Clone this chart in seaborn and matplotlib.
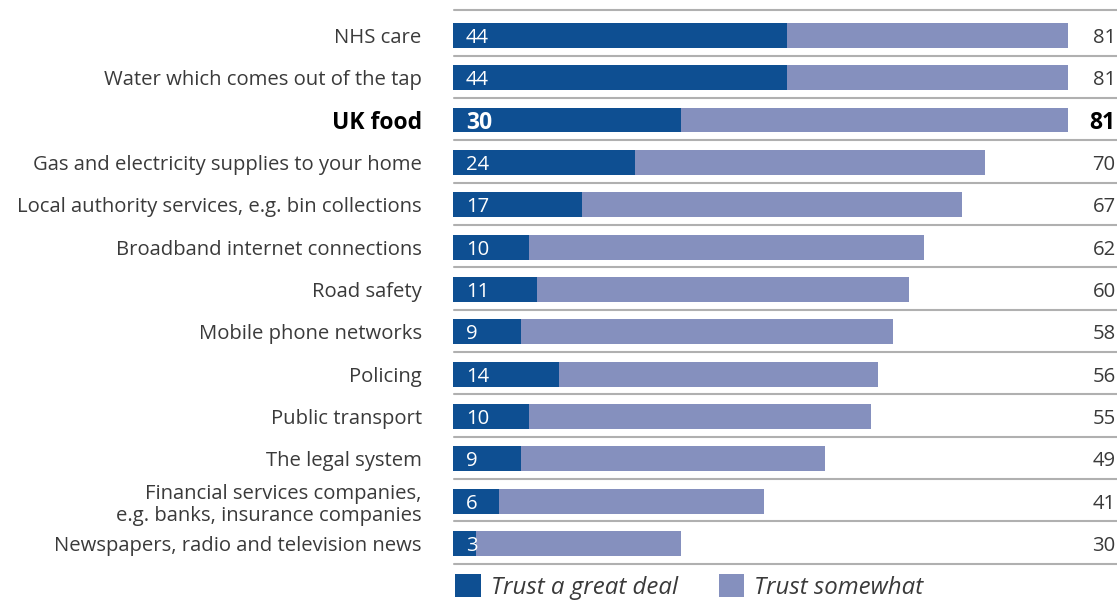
import matplotlib
matplotlib.use("Agg")
import matplotlib.pyplot as plt
from matplotlib.patches import Patch
import seaborn as sns
import pandas as pd

categories = [
    "NHS care",
    "Water which comes out of the tap",
    "UK food",
    "Gas and electricity supplies to your home",
    "Local authority services, e.g. bin collections",
    "Broadband internet connections",
    "Road safety",
    "Mobile phone networks",
    "Policing",
    "Public transport",
    "The legal system",
    "Financial services companies,\ne.g. banks, insurance companies",
    "Newspapers, radio and television news",
]
great_deal = [44, 44, 30, 24, 17, 10, 11, 9, 14, 10, 9, 6, 3]
total_trust = [81, 81, 81, 70, 67, 62, 60, 58, 56, 55, 49, 41, 30]
legend_labels = ["Trust a great deal", "Trust somewhat"]
highlight = "UK food"

DARK = "#0E4F92"
LIGHT = "#8590BE"
TEXT = "#3A3A3A"
RULE = "#B0B0B0"

sns.set_theme(style="white")
plt.rcParams["font.family"] = ["Open Sans", "DejaVu Sans"]

df = pd.DataFrame({"category": categories, "deal": great_deal, "total": total_trust})

W, H = 1117, 602
fig = plt.figure(figsize=(W / 100, H / 100), dpi=100)
ax = fig.add_axes([453 / W, 0, 1 - 453 / W, 1])

sns.barplot(data=df, x="total", y="category", color=LIGHT, width=0.59,
            saturation=1, linewidth=0, ax=ax, orient="h")
sns.barplot(data=df, x="deal", y="category", color=DARK, width=0.59,
            saturation=1, linewidth=0, ax=ax, orient="h")

ax.set_xlim(0, (W - 453) / 7.593)
row = 42.35
ax.set_ylim((H - 35.3) / row, -35.3 / row)

# separator rules between rows
n = len(categories)
ax.axhline(-0.6, xmin=0.002, xmax=1, color=RULE, lw=1.5, zorder=0)
for i in range(n):
    ax.axhline(i + 0.48, xmin=0.002, xmax=1, color=RULE, lw=1.5, zorder=0)

FS = 14.6
FSB = 16.5
for i, (cat, d, t) in enumerate(zip(categories, great_deal, total_trust)):
    bold = cat == highlight
    ax.text(1.7, i, str(d), color="white", ha="left", va="center_baseline",
            fontsize=FSB if bold else FS, fontweight="bold" if bold else "normal")
    ax.text(0.998, i, str(t), color="black" if bold else TEXT, ha="right",
            va="center_baseline", transform=ax.get_yaxis_transform(),
            fontsize=FSB if bold else FS, fontweight="bold" if bold else "normal")

ax.set_xlabel("")
ax.set_ylabel("")
ax.set_xticks([])
ax.tick_params(axis="y", length=0, pad=22.5, labelsize=FS, labelcolor=TEXT)
for lbl in ax.get_yticklabels():
    if lbl.get_text() == highlight:
        lbl.set_fontweight("bold")
        lbl.set_fontsize(FSB)
        lbl.set_color("black")
    if "\n" in lbl.get_text():
        lbl.set_linespacing(1.15)
for s in ax.spines.values():
    s.set_visible(False)

handles = [Patch(facecolor=DARK, edgecolor="none"), Patch(facecolor=LIGHT, edgecolor="none")]
fig.legend(handles, legend_labels, loc="lower left",
           bbox_to_anchor=(453 / W, 0), ncol=2, frameon=False,
           prop={"size": 17.3, "style": "italic"}, handlelength=1.05,
           handleheight=1.05, handletextpad=0.42, columnspacing=1.7,
           borderpad=0.1, borderaxespad=0.0, labelcolor=TEXT)

fig.savefig("out.png", dpi=100)
